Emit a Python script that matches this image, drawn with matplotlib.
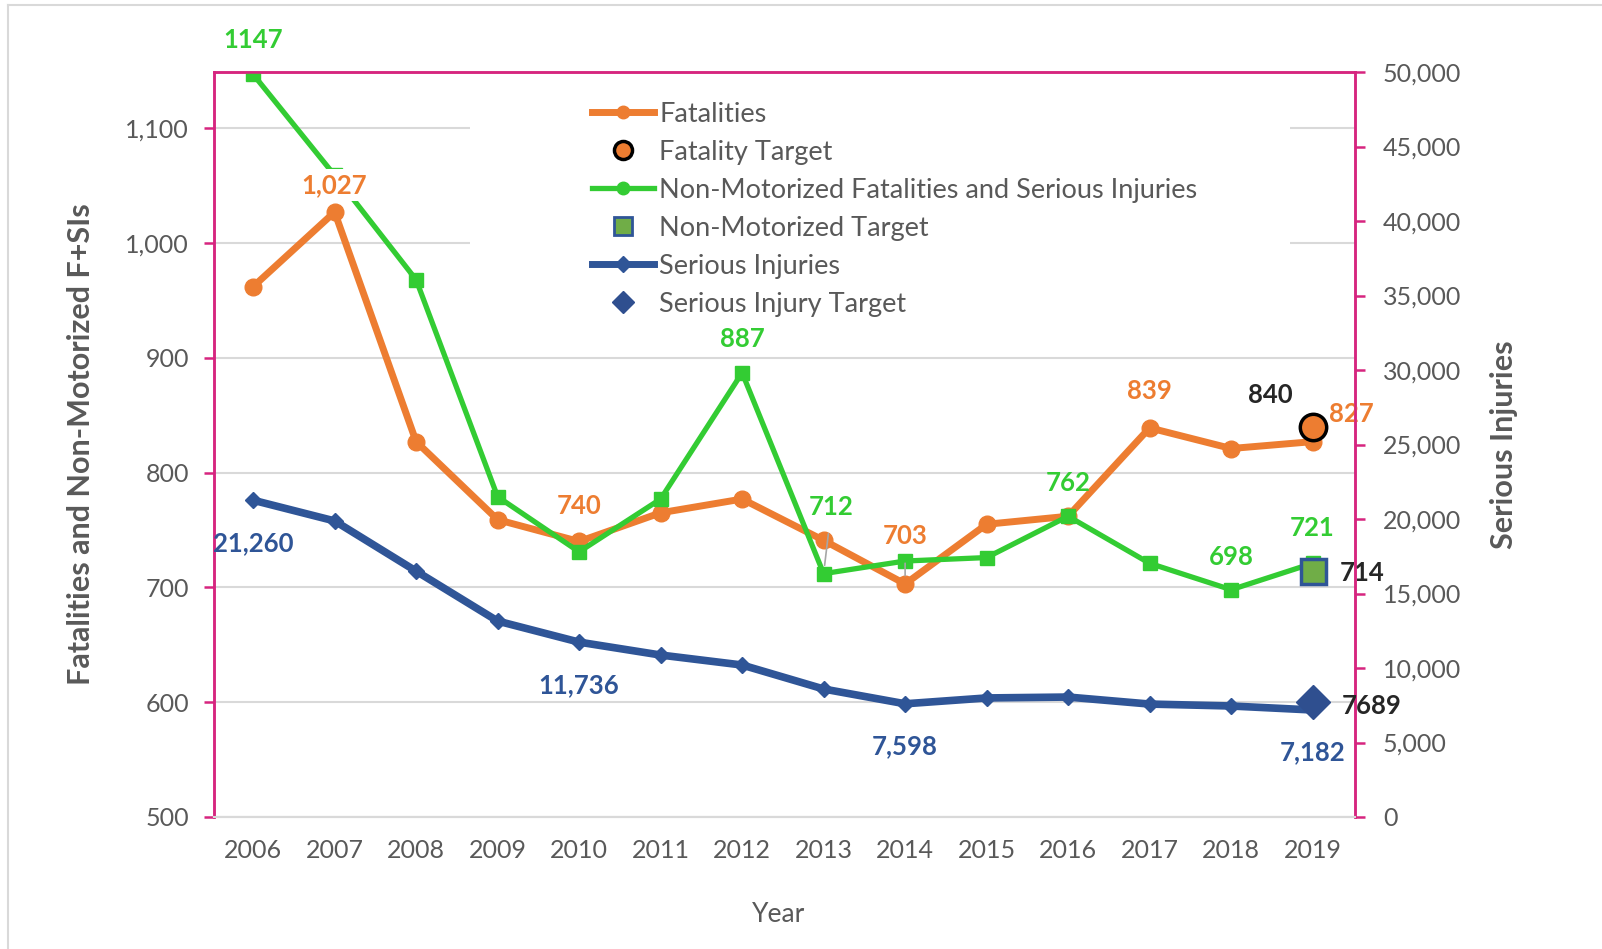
import matplotlib.pyplot as plt
from matplotlib.lines import Line2D
from matplotlib.patches import Rectangle

years = list(range(2006, 2020))
fatalities = [962, 1027, 827, 759, 740, 765, 777, 741, 703, 755, 762, 839, 821, 827]
nonmotorized = [1147, 1059, 968, 779, 731, 777, 887, 712, 723, 726, 762, 721, 698, 721]
serious = [21260, 19870, 16500, 13150, 11736, 10870, 10200, 8590, 7598, 7990, 8050, 7580, 7450, 7182]

target_year = 2019
fatality_target = 840
nonmotor_target = 714
serious_target = 7689

ORANGE = '#ED7D31'
GREEN = '#33CC33'
BLUE = '#2F5597'
PINK = '#D6257F'
GREY = '#595959'

plt.rcParams['font.family'] = ['Lato', 'DejaVu Sans']

fig = plt.figure(figsize=(16.02, 9.49), dpi=100)
ax1 = fig.add_axes([214 / 1602, 1 - 817 / 949, 1141 / 1602, 745 / 949])
ax2 = ax1.twinx()

# outer frame of the picture
fig.add_artist(Line2D([8 / 1602, 8 / 1602], [0, 1 - 5 / 949], transform=fig.transFigure, color='#D9D9D9', lw=1.5))
fig.add_artist(Line2D([8 / 1602, 1], [1 - 5 / 949, 1 - 5 / 949], transform=fig.transFigure, color='#D9D9D9', lw=1.5))

ax1.set_xlim(2005.52, 2019.52)
ax1.set_ylim(500, 1149)
ax2.set_ylim(0, 50000)
ax1.set_xticks(years)
ax1.set_yticks(range(500, 1101, 100))
ax2.set_yticks(range(0, 50001, 5000))
ax1.set_yticklabels([f'{v:,}' for v in range(500, 1101, 100)])
ax2.set_yticklabels([f'{v:,}' for v in range(0, 50001, 5000)])

ax1.set_axisbelow(True)
ax1.grid(axis='y', color='#D9D9D9', lw=1.5)
# white backing behind the legend hides the gridlines there
ax1.add_patch(Rectangle(((470 - 214) / 1141, (817 - 325) / 745), (1290 - 470) / 1141, (325 - 80) / 745,
                        transform=ax1.transAxes, facecolor='white', edgecolor='none', zorder=0.8))

for ax in (ax1, ax2):
    for side in ('left', 'right', 'top'):
        ax.spines[side].set_color(PINK)
        ax.spines[side].set_linewidth(1.8)
    ax.spines['bottom'].set_color('#D9D9D9')
    ax.spines['bottom'].set_linewidth(1.5)
    ax.tick_params(axis='y', colors=PINK, labelcolor=GREY, labelsize=18, length=7, width=1.8)
    ax.tick_params(axis='x', length=0, labelcolor=GREY, labelsize=18, pad=16)
ax1.tick_params(axis='y', pad=11)
ax2.tick_params(axis='y', pad=13)

ax1.plot(years, fatalities, color=ORANGE, lw=5, marker='o', ms=12, zorder=3)
ax1.plot(years, nonmotorized, color=GREEN, lw=3.8, marker='s', ms=10, zorder=3)
ax2.plot(years, serious, color=BLUE, lw=5.5, marker='D', ms=8, zorder=3)

ax1.plot([target_year], [fatality_target], ls='none', marker='o', ms=19,
         mfc=ORANGE, mec='black', mew=2.5, zorder=5)
ax1.plot([target_year], [nonmotor_target], ls='none', marker='s', ms=18,
         mfc='#70AD47', mec=BLUE, mew=2.5, zorder=5)
ax2.plot([target_year], [serious_target], ls='none', marker='D', ms=17,
         mfc='#2F4F8F', mec='#2F4F8F', zorder=5)


def label(ax, x, y, text, color, dx, dy, box=False, leader=False):
    kw = dict(textcoords='offset pixels', ha='center', va='center', color=color,
              fontsize=18.5, fontweight='bold', zorder=6, annotation_clip=False)
    if box:
        kw['bbox'] = dict(facecolor='white', edgecolor='none', pad=3)
    if leader:
        kw['arrowprops'] = dict(arrowstyle='-', color='#A6A6A6', lw=1.2, shrinkA=9, shrinkB=6)
    ax.annotate(text, (x, y), xytext=(dx, dy), **kw)


i = {y: k for k, y in enumerate(years)}
for yr, dx, dy, lead, box in [(2007, 0, 27, False, True), (2010, 0, 35, False, False),
                              (2014, 0, 48, True, False), (2017, 0, 37, False, False),
                              (2019, 39, 28, False, False)]:
    label(ax1, yr, fatalities[i[yr]], f'{fatalities[i[yr]]:,}', ORANGE, dx, dy, box, lead)

for yr, dx, dy, lead in [(2006, 0, 34, False), (2012, 0, 34, False), (2013, 8, 67, True),
                         (2016, 0, 33, False), (2018, 0, 33, False), (2019, 0, 35, False)]:
    label(ax1, yr, nonmotorized[i[yr]], f'{nonmotorized[i[yr]]}', GREEN, dx, dy, leader=lead)

for yr, dx, dy in [(2006, 0, -43), (2010, 0, -43), (2014, 0, -42), (2019, 0, -42)]:
    label(ax2, yr, serious[i[yr]], f'{serious[i[yr]]:,}', BLUE, dx, dy)

label(ax1, target_year, fatality_target, f'{fatality_target}', '#262626', -42, 32)
label(ax1, target_year, nonmotor_target, f'{nonmotor_target}', '#262626', 50, -2)
label(ax2, target_year, serious_target, f'{serious_target}', '#262626', 59, -4)

ax1.set_ylabel('Fatalities and Non-Motorized F+SIs', fontsize=22, fontweight='bold', color=GREY)
ax1.yaxis.set_label_coords((95 - 214) / 1141, 0.5)
ax2.set_ylabel('Serious Injuries', fontsize=22, fontweight='bold', color=GREY)
ax2.yaxis.set_label_coords((1490 - 214) / 1141, 0.5)
ax1.set_xlabel('Year', fontsize=19, color=GREY)
ax1.xaxis.set_label_coords((779 - 214) / 1141, (817 - 902) / 745)

# legend handles as they appear in the legend box
h_fat = Line2D([], [], color=ORANGE, lw=5, marker='o', ms=9)
h_tfat = Line2D([], [], ls='none', marker='o', ms=13, mfc=ORANGE, mec='black', mew=2.5)
h_nm = Line2D([], [], color=GREEN, lw=3.8, marker='o', ms=9)
h_tnm = Line2D([], [], ls='none', marker='s', ms=13, mfc='#70AD47', mec=BLUE, mew=2)
h_si = Line2D([], [], color=BLUE, lw=5, marker='D', ms=8)
h_tsi = Line2D([], [], ls='none', marker='D', ms=11, mfc='#2F4F8F', mec='#2F4F8F')

leg = ax2.legend([h_fat, h_tfat, h_nm, h_tnm, h_si, h_tsi],
                 ['Fatalities', 'Fatality Target', 'Non-Motorized Fatalities and Serious Injuries',
                  'Non-Motorized Target', 'Serious Injuries', 'Serious Injury Target'],
                 loc='upper left', bbox_to_anchor=((578 - 214) / 1141, (817 - 88) / 745),
                 frameon=False, fontsize=19.5, handlelength=2.3, handletextpad=0.2,
                 labelspacing=0.48, borderpad=0)
for txt in leg.get_texts():
    txt.set_color(GREY)

fig.savefig('out.png', dpi=100)
